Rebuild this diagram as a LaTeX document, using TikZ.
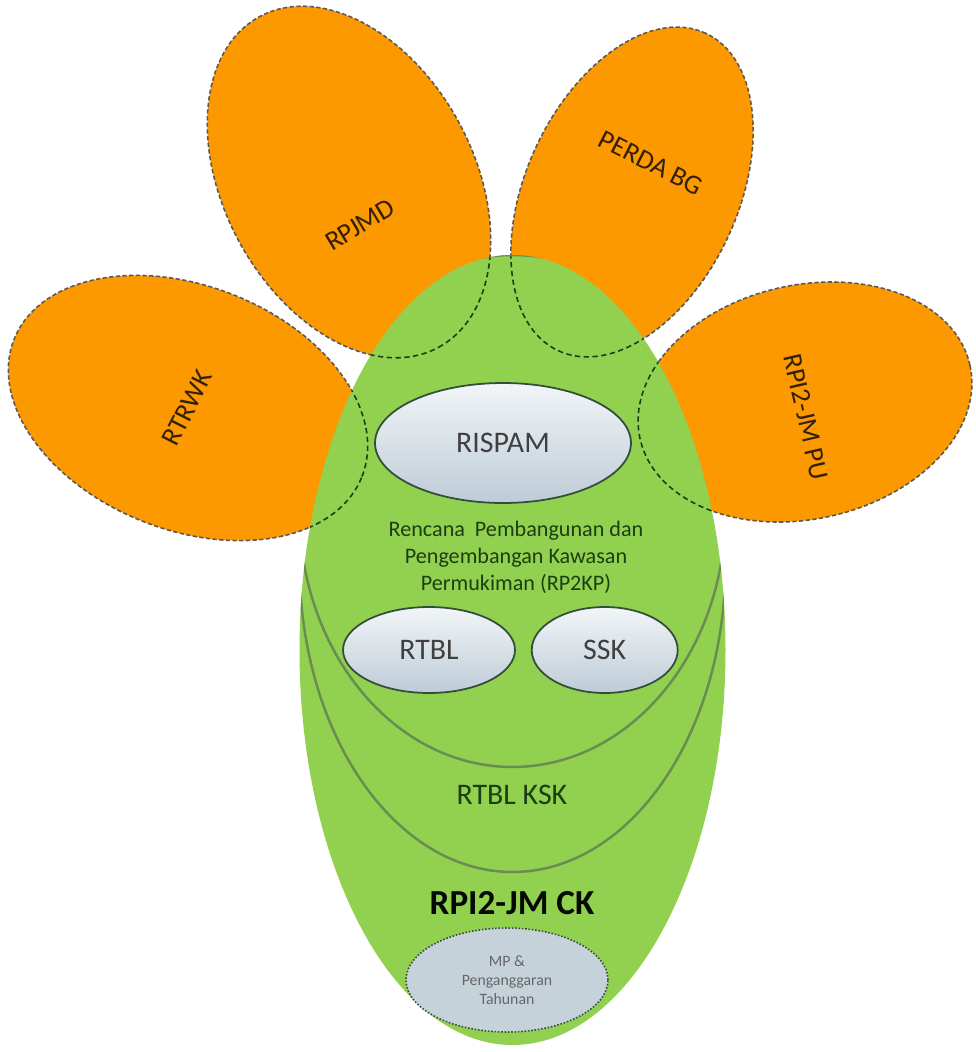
\documentclass[tikz,border=0pt]{standalone}
\usepackage{fontspec}
\setmainfont{Carlito}
\usetikzlibrary{shapes.geometric,positioning}

\definecolor{petalorange}{RGB}{252,152,0}
\definecolor{leafgreen}{RGB}{146,208,80}
\definecolor{darkleaf}{RGB}{28,62,18}
\definecolor{arcgreen}{RGB}{105,140,80}
\definecolor{bubbletop}{RGB}{242,245,248}
\definecolor{bubblebot}{RGB}{190,204,214}
\definecolor{bubbleline}{RGB}{50,78,58}
\definecolor{mpfill}{RGB}{198,210,218}
\definecolor{labelbrown}{RGB}{50,32,8}

\begin{document}
\begin{tikzpicture}[x=0.02cm, y=0.02cm,
    petal/.style={fill=petalorange, draw=black!65, dash pattern=on 2.4pt off 1.4pt, line width=0.9pt},
    petaledge/.style={draw=darkleaf, dash pattern=on 3pt off 2pt, line width=0.9pt},
    plabel/.style={text=labelbrown, font=\fontsize{15.5}{18}\selectfont},
    bubble/.style={ellipse, draw=bubbleline, line width=1pt, top color=bubbletop, bottom color=bubblebot,
      inner sep=0pt, text=black!75, font=\fontsize{17}{20}\selectfont},
    leaftext/.style={text=darkleaf, align=center}]
  \useasboundingbox (0,0) rectangle (975,-1052);

  % petals
  \foreach \cx/\cy/\ra/\rb/\ang in {188/408/187/122/-21.5, 349/182/188/125/-61.6, 632/192/175/106/65.1, 805/402/169/117/12.6}
    \draw[petal] (\cx,-\cy) circle[x radius=\ra, y radius=\rb, rotate=\ang];

  % big leaf
  \fill[leafgreen] (512.5,-650) circle[x radius=213, y radius=395];
  \begin{scope}
    \clip (512.5,-650) circle[x radius=213, y radius=395];
    \foreach \cx/\cy/\ra/\rb/\ang in {188/408/187/122/-21.5, 349/182/188/125/-61.6, 632/192/175/106/65.1, 805/402/169/117/12.6}
      \draw[petaledge] (\cx,-\cy) circle[x radius=\ra, y radius=\rb, rotate=\ang];
    % inner layers
    \draw[arcgreen, line width=1.4pt] (512.5,-511) circle[x radius=213, y radius=256];
    \draw[arcgreen, line width=1.4pt] (512.5,-563) circle[x radius=213, y radius=309];
  \end{scope}

  \node[plabel, rotate=63] (rtrwk) at (187,-408) {RTRWK};
  \node[plabel, rotate=31] (rpjmd) at (360,-225) {RPJMD};
  \node[plabel, rotate=-27] (perda) at (651,-163) {PERDA BG};
  \node[plabel, rotate=-77] (rpipu) at (806,-417) {RPI2-JM PU};

  \node[bubble, minimum width=5.12cm, minimum height=2.4cm] (rispam) at (503,-443) {RISPAM};
  \node[leaftext, font=\fontsize{12.6}{15.4}\selectfont] (rp2kp) at (516,-557)
    {Rencana\ \ Pembangunan dan\\Pengembangan Kawasan\\Permukiman (RP2KP)};
  \node[bubble, minimum width=3.44cm, minimum height=1.72cm] (rtbl) at (429,-650) {RTBL};
  \node[bubble, minimum width=2.92cm, minimum height=1.72cm, right=0.3cm of rtbl] (ssk) {SSK};
  \node[leaftext, font=\fontsize{17}{20}\selectfont] (ksk) at (512,-795) {RTBL KSK};
  \node[leaftext, text=black!85!darkleaf, font=\fontsize{20}{24}\selectfont\bfseries] (rpick) at (512,-903) {RPI2-JM CK};

  % yearly budget
  \node[ellipse, draw=bubbleline, densely dotted, line width=0.9pt, fill=mpfill, inner sep=0pt,
    minimum width=4.04cm, minimum height=2.08cm, align=center, text=black!60,
    font=\fontsize{9}{10.8}\selectfont] (mp) at (507,-980) {MP \&\\Penganggaran\\Tahunan};
\end{tikzpicture}
\end{document}
